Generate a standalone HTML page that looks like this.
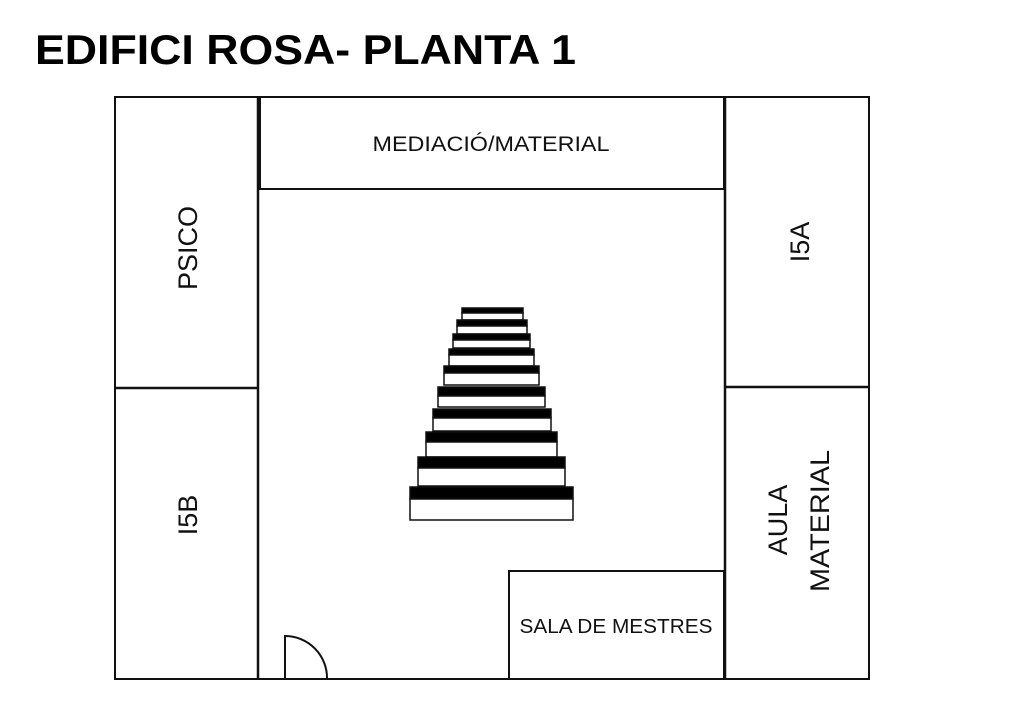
<!DOCTYPE html>
<html><head><meta charset="utf-8"><style>body{margin:0;background:#fff}svg{display:block}</style></head><body>
<svg width="1024" height="724" xmlns="http://www.w3.org/2000/svg" font-family="Liberation Sans, sans-serif">
<rect width="1024" height="724" fill="#fff"/>
<text x="35" y="64" font-size="42" font-weight="bold" textLength="541" lengthAdjust="spacingAndGlyphs">EDIFICI ROSA- PLANTA 1</text>
<g fill="none" stroke="#111" stroke-width="2">
<rect x="115" y="97" width="754" height="582"/>
<line x1="258" y1="97" x2="258" y2="679" stroke-width="2.5"/>
<line x1="115" y1="388" x2="258" y2="388" stroke-width="2.5"/>
<rect x="260" y="97" width="464" height="92"/>
<line x1="725" y1="97" x2="725" y2="679" stroke-width="2.5"/>
<line x1="725" y1="387" x2="869" y2="387" stroke-width="2.5"/>
<rect x="509" y="571" width="215" height="108"/>
<path d="M285 679 V636 A42 42 0 0 1 327 679"/>
</g>
<g stroke="#111" stroke-width="1.5">
<rect x="462" y="308" width="61" height="5" fill="#000"/><rect x="462" y="313" width="61" height="7" fill="#fff"/>
<rect x="457" y="320" width="70" height="6" fill="#000"/><rect x="457" y="326" width="70" height="8" fill="#fff"/>
<rect x="453" y="334" width="77" height="6" fill="#000"/><rect x="453" y="340" width="77" height="8" fill="#fff"/>
<rect x="449" y="349" width="85" height="6" fill="#000"/><rect x="449" y="355" width="85" height="11" fill="#fff"/>
<rect x="444" y="366" width="95" height="7" fill="#000"/><rect x="444" y="373" width="95" height="12" fill="#fff"/>
<rect x="438" y="387" width="107" height="9" fill="#000"/><rect x="438" y="396" width="107" height="11" fill="#fff"/>
<rect x="433" y="409" width="118" height="9" fill="#000"/><rect x="433" y="418" width="118" height="13" fill="#fff"/>
<rect x="426" y="432" width="131" height="10" fill="#000"/><rect x="426" y="442" width="131" height="15" fill="#fff"/>
<rect x="418" y="457" width="147" height="11" fill="#000"/><rect x="418" y="468" width="147" height="18" fill="#fff"/>
<rect x="410" y="487" width="163" height="12" fill="#000"/><rect x="410" y="499" width="163" height="21" fill="#fff"/>
</g>
<g fill="#111" text-anchor="middle">
<text x="491" y="151" font-size="21" textLength="237" lengthAdjust="spacingAndGlyphs">MEDIACIÓ/MATERIAL</text>
<text x="616" y="633" font-size="20" textLength="193" lengthAdjust="spacingAndGlyphs">SALA DE MESTRES</text>
<text transform="translate(197,248) rotate(-90)" font-size="27">PSICO</text>
<text transform="translate(197,515) rotate(-90)" font-size="27">I5B</text>
<text transform="translate(809,242) rotate(-90)" font-size="27">I5A</text>
<text transform="translate(787,520) rotate(-90)" font-size="27">AULA</text>
<text transform="translate(829,521) rotate(-90)" font-size="27" textLength="142" lengthAdjust="spacingAndGlyphs">MATERIAL</text>
</g>
</svg>
</body></html>
